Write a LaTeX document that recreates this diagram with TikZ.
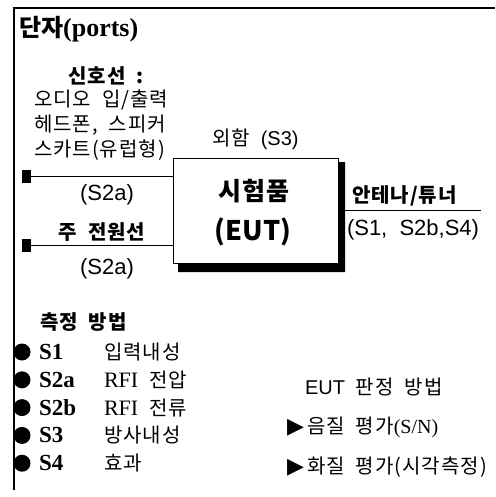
\documentclass[tikz,border=0pt]{standalone}
\usepackage{fontspec}
\newfontfamily\kr{Noto Sans CJK KR}
\newfontfamily\krs[LetterSpace=5,WordSpace=2]{Noto Sans CJK KR}
\newfontfamily\lsans[WordSpace=2]{Liberation Sans}
\newfontfamily\lserif{Liberation Serif}
\newfontfamily\dv{DejaVu Sans}
\tikzset{
  txt/.style={inner sep=0pt, outer sep=0pt, font=\krs\fontsize{20}{22}\selectfont},
  term/.style={fill=black, minimum width=9pt, minimum height=13pt, inner sep=0pt},
  dot/.style={circle, fill=black, minimum size=17pt, inner sep=0pt},
  wire/.style={line width=1pt},
}
\begin{document}
\begin{tikzpicture}[x=1pt,y=-1pt]
\useasboundingbox (0,0) rectangle (495,497);
% frame
\draw[line width=1.2pt] (14,490) -- (14,8) -- (495,8);
% title
\node[txt, anchor=west] (title) at (19,29) {{\kr\bfseries\fontsize{24}{26}\selectfont 단자}{\lserif\bfseries\fontsize{26}{28}\selectfont(ports)}};
% left labels
\node[txt, font=\krs\bfseries\fontsize{20}{22}\selectfont] (sig) at (106,76) {신호선 :};
\node[txt, anchor=west] (l1) at (34,100) {오디오 입/출력};
\node[txt, anchor=west] (l2) at (34,125) {헤드폰, 스피커};
\node[txt, anchor=west] (l3) at (34,150) {스카트(유럽형)};
\node[txt, font=\lsans\fontsize{22}{24}\selectfont] (s2a1) at (107,195) {(S2a)};
\node[txt, font=\krs\bfseries\fontsize{20}{22}\selectfont] (pw) at (102,232) {주 전원선};
\node[txt, font=\lsans\fontsize{22}{24}\selectfont] (s2a2) at (107,269) {(S2a)};
% EUT box with shadow
\fill[black] (338,162) -- (345,162) -- (345,272) -- (178,272) -- (178,263) -- (338,263) -- cycle;
\node[draw, line width=1pt, minimum width=165pt, minimum height=105pt, anchor=north west, inner sep=0pt] (eut) at (173,158) {};
\node[txt, font=\krs\bfseries\fontsize{25}{27}\selectfont] (eut1) at (254,191) {시험품};
\node[txt, font=\kr\bfseries\fontsize{27}{29}\selectfont] (eut2) at (253,232) {(EUT)};
\node[txt, anchor=west] (case) at (212,139) {외함 {\lsans(S3)}};
% terminals and wires
\node[term] (t1) at (26,176) {};
\node[term] (t2) at (26,245) {};
\draw[wire] (t1.east) -- (eut.west |- t1);
\draw[wire] (t2.east) -- (eut.west |- t2);
% antenna
\coordinate (antS) at (345,210);
\coordinate (antE) at (481,210);
\draw[wire] (antS) -- (antE);
\node[txt, anchor=west, font=\krs\bfseries\fontsize{20}{22}\selectfont] (ant) at (352,196) {안테나/튜너};
\node[txt, anchor=west, font=\lsans\fontsize{22}{24}\selectfont] (antl) at (347,230) {(S1, S2b,S4)};
% measurement methods
\node[txt, anchor=west, font=\krs\bfseries\fontsize{20}{22}\selectfont] (meas) at (40,322) {측정 방법};
\foreach \i/\code/\txtl in {0/S1/입력내성, 1/S2a/{\lserif\fontsize{22}{24}\selectfont RFI} 전압, 2/S2b/{\lserif\fontsize{22}{24}\selectfont RFI} 전류, 3/S3/방사내성, 4/S4/효과}{
  \node[dot] (d\i) at (22,352+27.8*\i) {};
  \node[txt, anchor=west, font=\lserif\bfseries\fontsize{23}{25}\selectfont] (c\i) at (39,352+27.8*\i) {\code};
  \node[txt, anchor=west] (m\i) at (104,352+27.8*\i) {\txtl};
}
% EUT judgement
\node[txt, anchor=west] (judge) at (305,387) {{\lsans EUT} 판정 방법};
\node[txt, anchor=west] (j1) at (287,427) {{\dv\fontsize{22}{24}\selectfont ▶}\,음질 평가{\lserif(S/N)}};
\node[txt, anchor=west] (j2) at (287,467) {{\dv\fontsize{22}{24}\selectfont ▶}\,화질 평가(시각측정)};
\end{tikzpicture}
\end{document}
